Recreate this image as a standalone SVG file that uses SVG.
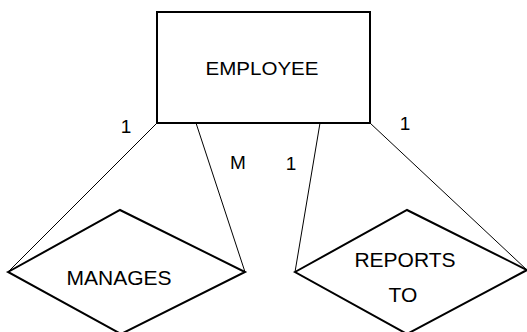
<svg xmlns="http://www.w3.org/2000/svg" width="527" height="332" viewBox="0 0 527 332">
<style>
.shape{fill:#fff;stroke:#000;stroke-width:2;stroke-linejoin:miter}
.conn{stroke:#000;stroke-width:1;fill:none}
text{font-family:"Liberation Sans",Arial,sans-serif;fill:#000}
.lbl{font-size:21px;text-anchor:middle}
.card{font-size:19px;text-anchor:middle}
</style>
<rect width="527" height="332" fill="#fff"/>
<g id="connectors">
<line class="conn" x1="157" y1="123" x2="8" y2="272"/>
<line class="conn" x1="196" y1="123" x2="245" y2="272"/>
<line class="conn" x1="320" y1="123" x2="295" y2="272"/>
<line class="conn" x1="370" y1="123" x2="527" y2="270"/>
<text class="card" x="126" y="133">1</text>
<text class="card" x="238" y="169">M</text>
<text class="card" x="291" y="170">1</text>
<text class="card" x="405" y="130">1</text>
</g>
<g id="employee">
<rect class="shape" x="157" y="12" width="213" height="111"/>
<text class="lbl" x="262" y="75" textLength="113" lengthAdjust="spacingAndGlyphs" style="font-size:19px">EMPLOYEE</text>
</g>
<g id="manages">
<polygon class="shape" points="8,272 120,210 245,272 121,334"/>
<text class="lbl" x="119" y="285">MANAGES</text>
</g>
<g id="reports-to">
<polygon class="shape" points="295,272 407,210 527,270 407,334"/>
<text class="lbl" x="405" y="267">REPORTS</text>
<text class="lbl" x="403" y="302">TO</text>
</g>
</svg>
